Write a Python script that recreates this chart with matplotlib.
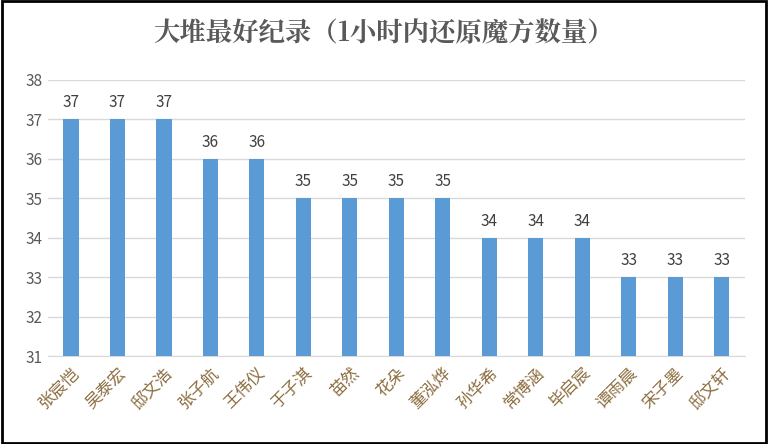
import matplotlib.pyplot as plt
import matplotlib.patches as mpatches

plt.rcParams['font.family'] = ['Noto Sans CJK SC', 'DejaVu Sans']

names = ["张宸恺", "吴泰宏", "邸文浩", "张子航", "王伟仪", "于子淇", "苗然", "花朵",
         "董泓烨", "孙华希", "常博涵", "毕启宸", "谭雨晨", "宋子墨", "邸文轩"]
scores = [37, 37, 37, 36, 36, 35, 35, 35, 35, 34, 34, 34, 33, 33, 33]

fig = plt.figure(figsize=(7.68, 4.44), dpi=100)
ax = fig.add_axes([0.062, 0.198, 0.908, 0.622])
x = range(len(names))
ax.bar(x, [s - 31 for s in scores], bottom=31, width=0.33, color="#5b9bd5", zorder=3)
for i, s in zip(x, scores):
    ax.text(i, s + 0.2, str(s), ha="center", va="bottom", fontsize=11, color="#404040")
ax.set_ylim(31, 38)
ax.set_xlim(-0.5, len(names) - 0.5)
ax.set_yticks(range(31, 39))
ax.grid(axis="y", color="#d9d9d9", linewidth=1, zorder=0)
ax.set_xticks(list(x))
ax.set_xticklabels(names, rotation=45, ha="right", rotation_mode="anchor",
                   fontsize=12, color="#8c6d3f")
ax.tick_params(axis="y", labelsize=11, labelcolor="#595959", length=0)
ax.tick_params(axis="x", length=0, pad=6)
for side in ["top", "right", "left"]:
    ax.spines[side].set_visible(False)
ax.spines["bottom"].set_color("#d9d9d9")
fig.text(0.5, 0.925, "大堆最好纪录（1小时内还原魔方数量）", ha="center", va="center",
         fontsize=19, fontweight="bold", color="#595959",
         family=["Noto Serif CJK SC", "Noto Sans CJK SC", "DejaVu Sans"])
fig.patches.append(mpatches.Rectangle((0.002, 0.003), 0.996, 0.994, transform=fig.transFigure,
                                      fill=False, edgecolor="black", linewidth=2))
fig.savefig("out.png", dpi=100)
